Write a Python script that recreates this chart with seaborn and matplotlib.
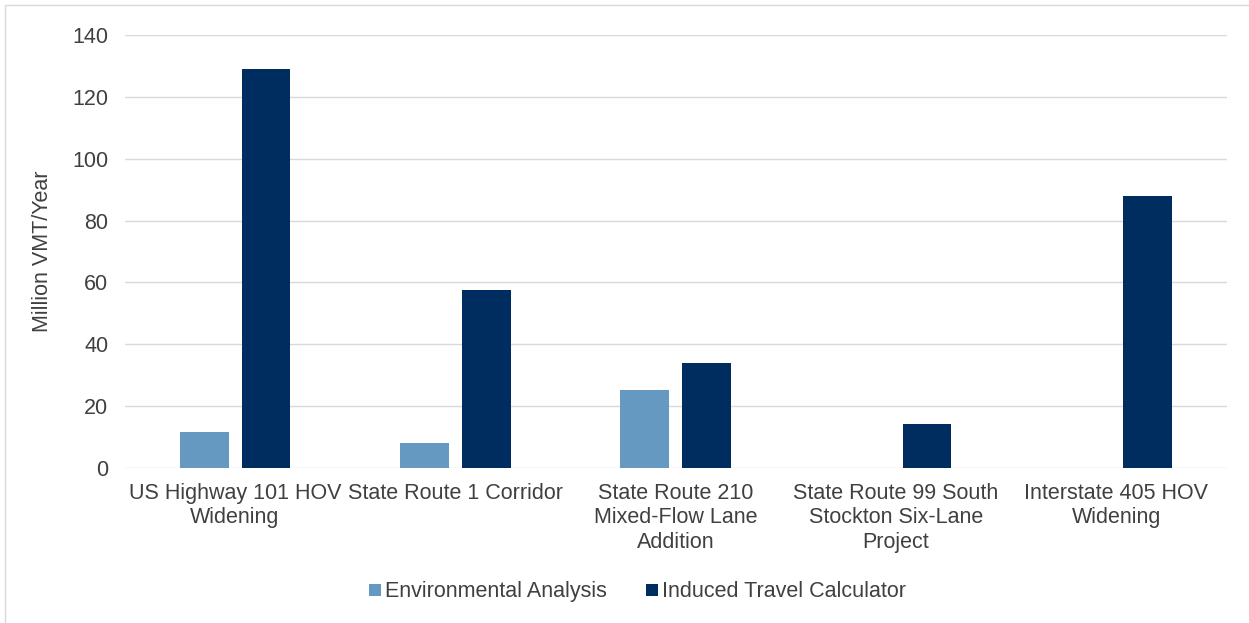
import numpy as np
import pandas as pd
import matplotlib.pyplot as plt
import seaborn as sns
from matplotlib.lines import Line2D

# chart data
projects = ["US Highway 101 HOV\nWidening",
            "State Route 1 Corridor",
            "State Route 210\nMixed-Flow Lane\nAddition",
            "State Route 99 South\nStockton Six-Lane\nProject",
            "Interstate 405 HOV\nWidening"]
env_analysis = [11.5, 8, 25.2, 0, 0]
induced_calc = [129, 57.5, 34, 14.3, 88]
series = ["Environmental Analysis", "Induced Travel Calculator"]
colors = ["#6699C2", "#002D60"]

df = pd.DataFrame({
    "project": projects * 2,
    "series": [series[0]] * len(projects) + [series[1]] * len(projects),
    "value": env_analysis + induced_calc,
})

sns.set_theme(style="white")
plt.rcParams['font.family'] = ['Liberation Sans', 'DejaVu Sans']
text_col = "#404040"
fs = 15.5

fig = plt.figure(figsize=(12.49, 6.23), dpi=100)
ax = fig.add_axes([0.1, 0.2488, 0.882, 0.695])

sns.barplot(data=df, x="project", y="value", hue="series", palette=colors,
            saturation=1, width=0.56, gap=0.21, linewidth=0, ax=ax, legend=False)

ax.set_ylim(0, 140)
ax.set_yticks(np.arange(0, 141, 20))
ax.yaxis.grid(True, color="#D9D9D9", linewidth=1)
ax.set_axisbelow(True)
for s in ax.spines.values():
    s.set_visible(False)
ax.tick_params(axis="both", length=0, labelsize=fs, colors=text_col)
ax.tick_params(axis="y", pad=12)
ax.tick_params(axis="x", pad=11)
ax.set_xlabel("")
ax.set_ylabel("Million VMT/Year", fontsize=fs, color=text_col, labelpad=14)

handles = [Line2D([], [], marker="s", linestyle="", markersize=9,
                  markerfacecolor=c, markeredgewidth=0) for c in colors]
fig.legend(handles, series, loc="center", bbox_to_anchor=(0.5104, 0.05), ncol=2,
           frameon=False, fontsize=fs, labelcolor=text_col,
           handlelength=0.6, handletextpad=0.15, columnspacing=1.8)

# light chart frame
fig.add_artist(Line2D([5 / 1249, 1], [1 - 5 / 623, 1 - 5 / 623],
                      transform=fig.transFigure, color="#D9D9D9", linewidth=1))
fig.add_artist(Line2D([5 / 1249, 5 / 1249], [0, 1 - 5 / 623],
                      transform=fig.transFigure, color="#D9D9D9", linewidth=1))

fig.savefig("out.png", dpi=100, facecolor="white")
